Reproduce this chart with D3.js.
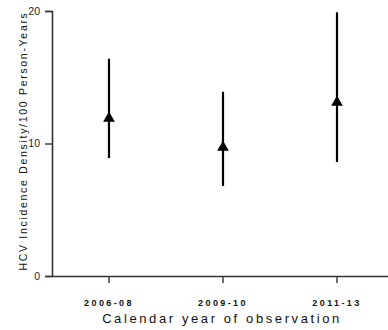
<!DOCTYPE html>
<html><head><meta charset="utf-8">
<script src="https://cdn.jsdelivr.net/npm/d3@7"></script>
<style>body{margin:0;background:#fff}svg{display:block;font-family:"Liberation Sans",Arial,sans-serif}</style>
</head><body><svg id="c" width="388" height="330"></svg>
<script>
const categories = ["2006-08", "2009-10", "2011-13"];
const estimates = [11.9, 9.7, 13.1];
const lowerCI = [8.9, 6.8, 8.6];
const upperCI = [16.4, 13.9, 19.9];
const yTicks = [0, 10, 20];

const svg = d3.select("#c");
const m = {left: 52, right: -6, top: 11, bottom: 54};
const W = 388, H = 330;
const x = d3.scaleBand().domain(categories).range([m.left, W - m.right]);
const y = d3.scaleLinear().domain([0, 20]).range([H - m.bottom, m.top]);

// error bars
const g = svg.append("g");
categories.forEach((c, i) => {
  const cx = x(c) + x.bandwidth() / 2;
  g.append("line").attr("x1", cx).attr("x2", cx)
    .attr("y1", y(lowerCI[i])).attr("y2", y(upperCI[i]))
    .attr("stroke", "#000").attr("stroke-width", 2.2);
  g.append("path")
    .attr("d", d3.symbol(d3.symbolTriangle, 60)())
    .attr("transform", `translate(${cx},${y(estimates[i])})`)
    .attr("fill", "#000");
});

// y axis
const ya = svg.append("g").attr("transform", `translate(${m.left},0)`)
  .call(d3.axisLeft(y).tickValues(yTicks).tickSize(7).tickPadding(5));
ya.select(".domain").attr("stroke", "#333").attr("stroke-width", 1.6);
ya.selectAll(".tick line").attr("stroke", "#333").attr("stroke-width", 1.4);
ya.selectAll("text").attr("font-size", 10.5).attr("fill", "#222")
  .attr("font-family", "Liberation Sans, Arial, sans-serif");

// x axis
const xa = svg.append("g").attr("transform", `translate(0,${H - m.bottom})`)
  .call(d3.axisBottom(x).tickSize(7).tickPadding(17).tickSizeOuter(0));
xa.select(".domain").attr("stroke", "#333").attr("stroke-width", 1.6);
xa.selectAll(".tick line").attr("stroke", "#333").attr("stroke-width", 1.4);
xa.selectAll("text").attr("font-size", 9).attr("font-weight", "bold").attr("fill", "#111")
  .attr("letter-spacing", 2.4)
  .attr("font-family", "Liberation Sans, Arial, sans-serif");

svg.append("text").attr("x", 222).attr("y", 323).attr("text-anchor", "middle")
  .attr("font-size", 13).attr("letter-spacing", 2.6).attr("fill", "#111")
  .text("Calendar year of observation");

svg.append("text").attr("transform", "translate(23,141) rotate(-90)")
  .attr("text-anchor", "middle").attr("dy", "0.35em")
  .attr("font-size", 10.5).attr("letter-spacing", 1.7).attr("fill", "#111")
  .text("HCV Incidence Density/100 Person-Years");
</script></body></html>
